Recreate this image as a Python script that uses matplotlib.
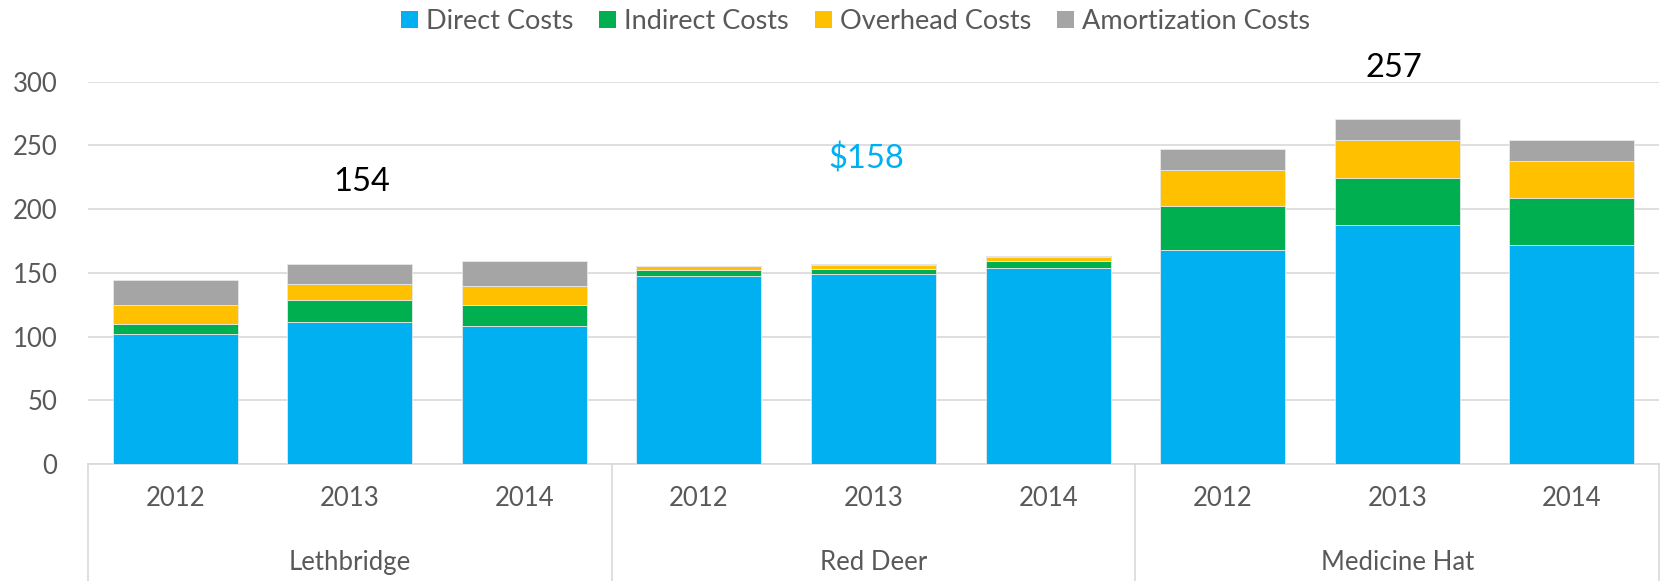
import matplotlib
matplotlib.use("Agg")
import matplotlib.pyplot as plt
import matplotlib.transforms as mtransforms
from matplotlib.patches import Patch
import numpy as np

# --- data -------------------------------------------------------------
cities = ["Lethbridge", "Red Deer", "Medicine Hat"]
years = ["2012", "2013", "2014"]
series_names = ["Direct Costs", "Indirect Costs", "Overhead Costs", "Amortization Costs"]

direct = [102, 111.5, 108, 147.5, 149, 154, 168, 187.5, 172]
indirect = [7.5, 17, 16.5, 4.5, 4, 5, 34, 37, 37]
overhead = [15, 12.5, 15, 3, 3, 3.5, 28.5, 30, 29]
amortization = [20, 16, 20, 0.5, 1, 0.3, 16.5, 16.5, 16]

# labels floating in the chart: (text, category position, value, colour)
callouts = [("154", 1.07, 221, "black"), ("$158", 3.96, 239, "#00B0F0"), ("257", 6.98, 311, "black")]

colors = ["#00B0F0", "#00B050", "#FFC000", "#A5A5A5"]

plt.rcParams["font.family"] = ["Lato", "DejaVu Sans"]

fig = plt.figure(figsize=(16.61, 5.81), dpi=100)
ax = fig.add_axes([0.053, 0.2014, 0.9458, 0.6582])

x = np.arange(len(direct))
bottom = np.zeros(len(direct))
for name, vals, c in zip(series_names, [direct, indirect, overhead, amortization], colors):
    ax.bar(x, vals, bottom=bottom, width=0.716, color=c, edgecolor="#E8E8E8",
           linewidth=0.6, label=name, zorder=3)
    bottom += np.array(vals)

ax.set_xlim(-0.5, len(direct) - 0.5)
ax.set_ylim(0, 300)
ax.set_yticks(range(0, 301, 50))
ax.tick_params(axis="y", length=0, labelsize=18.5, labelcolor="#595959", pad=22)
ax.grid(True, axis="y", color="#D9D9D9", linewidth=1.2, zorder=0)
ax.set_xticks([])
for side in ["top", "right", "left"]:
    ax.spines[side].set_visible(False)
ax.spines["bottom"].set_color("#D9D9D9")
ax.spines["bottom"].set_linewidth(1.2)

# --- multi-level category axis ---------------------------------------
trans = mtransforms.blended_transform_factory(ax.transData, ax.transAxes)
for i in range(len(direct)):
    ax.text(i, -0.089, years[i % 3], transform=trans, ha="center", va="center",
            fontsize=18.5, color="#595959")
for g, city in enumerate(cities):
    ax.text(g * 3 + 1, -0.257, city, transform=trans, ha="center", va="center",
            fontsize=18.5, color="#595959")
for xb in [-0.5, 2.5, 5.5, 8.5]:
    ax.plot([xb, xb], [0, -0.32], transform=trans, color="#D9D9D9",
            linewidth=1.2, clip_on=False)

# --- callouts ----------------------------------------------------------
for txt, xi, yv, c in callouts:
    ax.text(xi, yv, txt, ha="center", va="center", fontsize=23.5, color=c, clip_on=False)

# --- legend ------------------------------------------------------------
handles = [Patch(facecolor=c, label=n) for n, c in zip(series_names, colors)]
fig.legend(handles=handles, loc="center", bbox_to_anchor=(0.515, 0.963), ncol=4,
           frameon=False, fontsize=19.5, handlelength=0.63, handleheight=0.63,
           handletextpad=0.3, columnspacing=0.95, labelcolor="#595959")

fig.savefig("out.png", dpi=100)
